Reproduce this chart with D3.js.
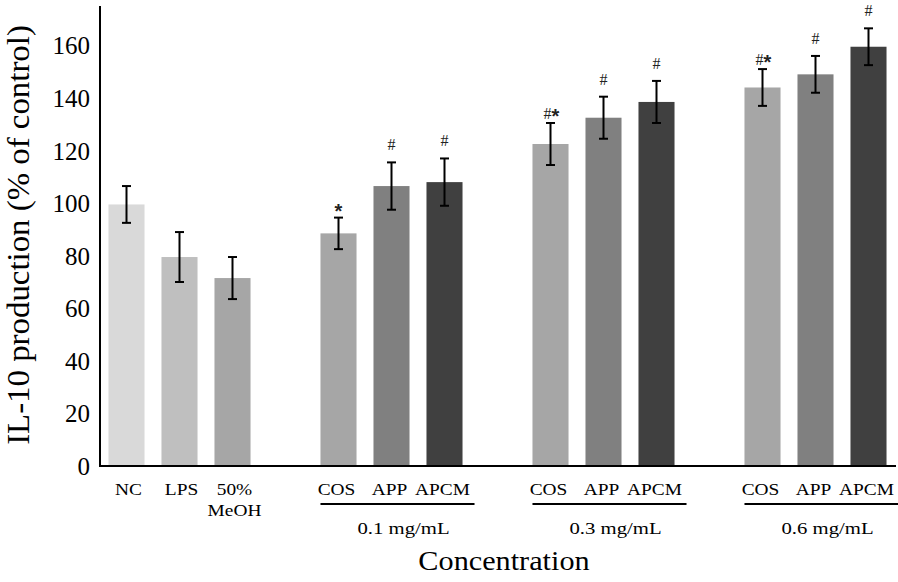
<!DOCTYPE html>
<html>
<head>
<meta charset="utf-8">
<script src="https://cdn.jsdelivr.net/npm/d3@7"></script>
<style>
  html, body { margin: 0; padding: 0; background: #fff; }
  svg { display: block; font-family: "Liberation Serif", "Times New Roman", serif; }
</style>
</head>
<body>
<svg id="chart" width="898" height="582"></svg>
<script>
// ---- data ----
const controlLabels = ["NC", "LPS", "50%|MeOH"];
const controlValues = [99.5, 79.5, 71.5];
const controlErrors = [7, 9.5, 8];

const groupLabels = ["0.1 mg/mL", "0.3 mg/mL", "0.6 mg/mL"];
const treatmentLabels = ["COS", "APP", "APCM"];
const cosValues  = [88.5, 122.5, 144];
const appValues  = [106.5, 132.5, 149];
const apcmValues = [108, 138.5, 159.5];
const cosErrors  = [6, 8, 7];
const appErrors  = [9, 8, 7];
const apcmErrors = [9, 8, 7];
const cosMarks  = ["*", "#*", "#*"];
const appMarks  = ["#", "#", "#"];
const apcmMarks = ["#", "#", "#"];

const yTicks = [0, 20, 40, 60, 80, 100, 120, 140, 160];
const yTitle = "IL-10 production (% of control)";
const xTitle = "Concentration";

const controlColors = ["#d9d9d9", "#bfbfbf", "#a6a6a6"];
const treatmentColors = ["#a6a6a6", "#808080", "#404040"];

// ---- build records ----
const bars = [];
controlLabels.forEach((l, i) => bars.push({key: "c" + i, label: l, value: controlValues[i], err: controlErrors[i], color: controlColors[i], mark: ""}));
const treatVals = [cosValues, appValues, apcmValues];
const treatErrs = [cosErrors, appErrors, apcmErrors];
const treatMarks = [cosMarks, appMarks, apcmMarks];
const slots = controlLabels.map((l, i) => "c" + i);
groupLabels.forEach((g, gi) => {
  slots.push("gap" + gi);
  treatmentLabels.forEach((t, ti) => {
    const key = "g" + gi + "t" + ti;
    slots.push(key);
    bars.push({key, label: t, value: treatVals[ti][gi], err: treatErrs[ti][gi], color: treatmentColors[ti], mark: treatMarks[ti][gi], group: gi});
  });
});

// ---- scales ----
const svg = d3.select("#chart");
const x = d3.scaleBand().domain(slots).range([100, 895]).paddingInner(0.32).paddingOuter(0.16);
const y = d3.scaleLinear().domain([0, 175]).range([466, 6]);

// ---- bars ----
svg.append("g").selectAll("rect").data(bars).join("rect")
  .attr("x", d => x(d.key)).attr("width", x.bandwidth())
  .attr("y", d => y(d.value)).attr("height", d => y(0) - y(d.value))
  .attr("fill", d => d.color);

// ---- error bars ----
const eb = svg.append("g").attr("stroke", "#000").attr("stroke-width", 2);
bars.forEach(d => {
  const cx = x(d.key) + x.bandwidth() / 2;
  eb.append("line").attr("x1", cx).attr("x2", cx).attr("y1", y(d.value + d.err)).attr("y2", y(d.value - d.err));
  [d.value + d.err, d.value - d.err].forEach(v => {
    eb.append("line").attr("x1", cx - 4.5).attr("x2", cx + 4.5).attr("y1", y(v)).attr("y2", y(v));
  });
});

// ---- significance marks ----
bars.filter(d => d.mark).forEach(d => {
  const cx = x(d.key) + x.bandwidth() / 2;
  const top = y(d.value + d.err);
  const hasStar = d.mark.includes("*");
  const t = svg.append("text").attr("text-anchor", "middle")
    .attr("x", cx + (d.mark === "#*" ? 1 : 0))
    .attr("y", top - (hasStar ? 4 : 12))
    .attr("fill", "#222");
  for (const ch of d.mark) {
    if (ch === "#") {
      t.append("tspan").attr("font-size", 16).text("#");
    } else {
      t.append("tspan").attr("font-family", "Liberation Sans, Arial, sans-serif")
        .attr("font-weight", "bold").attr("font-size", 20).attr("dy", 4).text("*");
    }
  }
});

// ---- axes ----
const yAxis = svg.append("g").attr("transform", "translate(100,0)")
  .call(d3.axisLeft(y).tickValues(yTicks).tickSize(0).tickPadding(10));
yAxis.select(".domain").remove();
yAxis.selectAll("text").attr("font-family", "Liberation Serif, serif").attr("font-size", 25).attr("fill", "#000").attr("dy", "0.34em");
svg.append("line").attr("x1", 100).attr("x2", 100).attr("y1", y(175)).attr("y2", y(0) + 1).attr("stroke", "#000").attr("stroke-width", 2);
svg.append("line").attr("x1", 99).attr("x2", x.range()[1] + 1).attr("y1", y(0)).attr("y2", y(0)).attr("stroke", "#000").attr("stroke-width", 2);

// ---- category labels ----
const lab = svg.append("g").attr("font-size", 17).attr("fill", "#000").attr("text-anchor", "middle");
bars.forEach(d => {
  const cx = x(d.key) + x.bandwidth() / 2;
  const lines = d.label.split("|");
  lines.forEach((ln, i) => {
    lab.append("text").attr("transform", `translate(${cx + (d.group === undefined ? 2 : -2)},${495 + i * 21}) scale(1.14,1)`).text(ln);
  });
});

// ---- group lines and labels ----
groupLabels.forEach((g, gi) => {
  const x0 = x("g" + gi + "t0");
  const x1 = x("g" + gi + "t2") + x.bandwidth() + 12;
  svg.append("line").attr("x1", x0).attr("x2", x1).attr("y1", 504).attr("y2", 504).attr("stroke", "#000").attr("stroke-width", 2);
  svg.append("text").attr("text-anchor", "middle").attr("font-size", 17)
    .attr("transform", `translate(${(x0 + x1) / 2 + 6},534) scale(1.22,1)`).text(g);
});

// ---- titles ----
svg.append("text").attr("text-anchor", "middle").attr("font-size", 27)
  .attr("transform", `translate(504,570) scale(1.12,1)`).text(xTitle);
svg.append("text").attr("text-anchor", "middle").attr("font-size", 31)
  .attr("transform", `translate(29,235) rotate(-90) scale(1.06,1)`).text(yTitle);
</script>
</body>
</html>
